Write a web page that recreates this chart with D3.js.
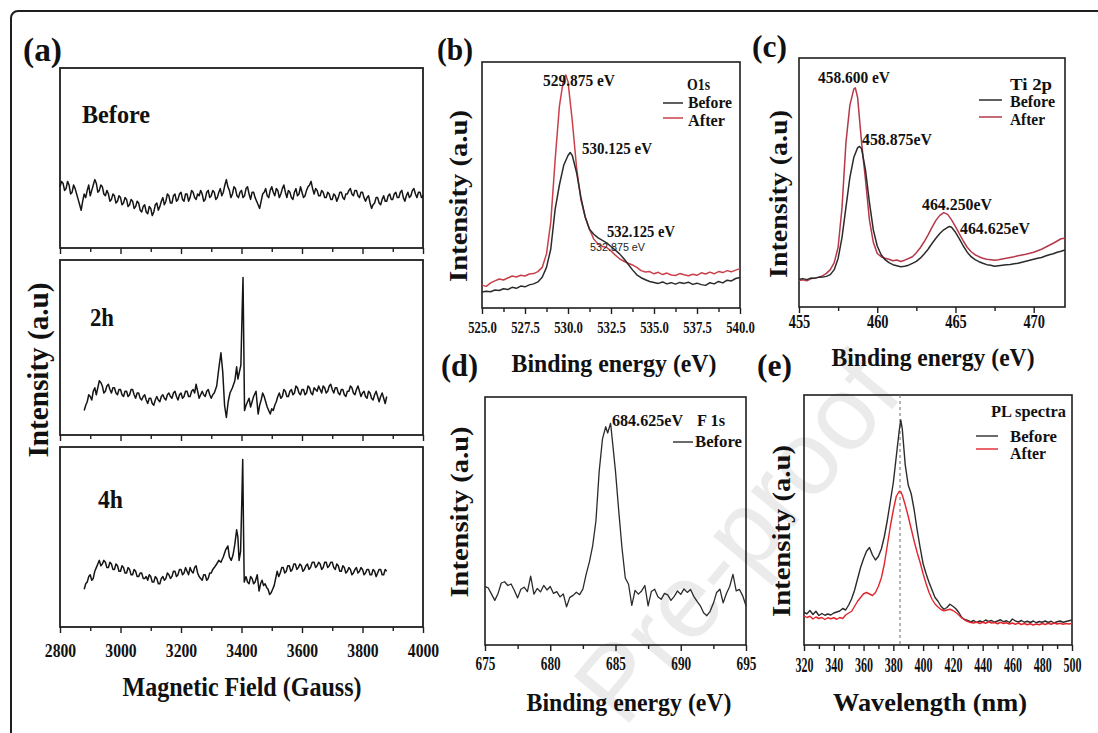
<!DOCTYPE html>
<html>
<head>
<meta charset="utf-8">
<script src="https://cdn.jsdelivr.net/npm/d3@7"></script>
<style>
  body { margin: 0; background: #fff; }
  svg { display: block; }
  svg text { font-family: "Liberation Serif", "Times New Roman", Tinos, "Nimbus Roman", "Noto Serif", "DejaVu Serif", FreeSerif, serif; }
</style>
</head>
<body>
<svg id="fig" width="1098" height="733"></svg>
<script>
// ---------------- data ----------------
// (a) EPR spectra: [field (G), intensity (a.u.)]
const eprBefore = [
[2800,34],[2805,37],[2810,36],[2815,32],[2820,33],[2825,37],[2830,35],[2835,30],[2840,31],[2845,35],
[2850,33],[2855,30],[2860,27],[2865,24],[2870,21],[2875,26],[2880,30],[2885,28],[2890,32],[2895,35],
[2900,29],[2905,32],[2910,35],[2915,38],[2920,36],[2925,31],[2930,32],[2935,35],[2940,34],[2945,30],
[2950,29],[2955,32],[2960,30],[2965,26],[2970,27],[2975,30],[2980,29],[2985,25],[2990,26],[2995,29],
[3000,28],[3005,24],[3010,25],[3015,28],[3020,27],[3025,23],[3030,24],[3035,27],[3040,26],[3045,22],
[3050,23],[3055,26],[3060,25],[3065,21],[3070,20],[3075,23],[3080,24],[3085,20],[3090,19],[3095,23],
[3100,22],[3105,18],[3110,20],[3115,24],[3120,25],[3125,21],[3130,23],[3135,26],[3140,28],[3145,24],
[3150,26],[3155,30],[3160,29],[3165,25],[3170,25],[3175,29],[3180,30],[3185,26],[3190,27],[3195,30],
[3200,31],[3205,27],[3210,26],[3215,30],[3220,30],[3225,26],[3230,28],[3235,32],[3240,31],[3245,28],
[3250,27],[3255,30],[3260,29],[3265,32],[3270,30],[3275,26],[3280,27],[3285,31],[3290,32],[3295,28],
[3300,29],[3305,32],[3310,31],[3315,27],[3320,28],[3325,31],[3330,33],[3335,29],[3340,31],[3345,35],
[3350,38],[3355,34],[3360,32],[3365,28],[3370,30],[3375,34],[3380,33],[3385,29],[3390,28],[3395,31],
[3400,32],[3405,28],[3410,29],[3415,33],[3420,34],[3425,30],[3430,27],[3435,31],[3440,31],[3445,28],
[3450,26],[3455,24],[3460,22],[3465,26],[3470,30],[3475,31],[3480,33],[3485,29],[3490,28],[3495,32],
[3500,34],[3505,31],[3510,29],[3515,33],[3520,32],[3525,28],[3530,30],[3535,33],[3540,35],[3545,31],
[3550,28],[3555,32],[3560,31],[3565,28],[3570,27],[3575,31],[3580,33],[3585,29],[3590,30],[3595,34],
[3600,31],[3605,28],[3610,29],[3615,32],[3620,34],[3625,35],[3630,37],[3635,33],[3640,30],[3645,33],
[3650,32],[3655,29],[3660,29],[3665,32],[3670,31],[3675,28],[3680,28],[3685,31],[3690,30],[3695,27],
[3700,27],[3705,30],[3710,29],[3715,26],[3720,28],[3725,31],[3730,31],[3735,28],[3740,27],[3745,30],
[3750,30],[3755,32],[3760,33],[3765,30],[3770,29],[3775,32],[3780,32],[3785,29],[3790,28],[3795,31],
[3800,31],[3805,28],[3810,26],[3815,28],[3820,29],[3825,25],[3830,22],[3835,24],[3840,25],[3845,28],
[3850,28],[3855,25],[3860,24],[3865,27],[3870,29],[3875,26],[3880,26],[3885,29],[3890,30],[3895,27],
[3900,27],[3905,30],[3910,31],[3915,28],[3920,28],[3925,31],[3930,32],[3935,28],[3940,26],[3945,29],
[3950,31],[3955,28],[3960,29],[3965,32],[3970,33],[3975,30],[3980,28],[3985,31],[3990,31],[3995,28],[4000,29]
];
const eprTwoHours = [
[2880,14],[2885,17],[2890,19],[2895,23],[2900,22],[2905,20],[2910,25],[2915,27],[2920,23],[2925,27],
[2930,31],[2935,30],[2940,28],[2945,24],[2950,25],[2955,28],[2960,29],[2965,26],[2970,24],[2975,27],
[2980,27],[2985,24],[2990,23],[2995,26],[3000,26],[3005,23],[3010,22],[3015,25],[3020,25],[3025,22],
[3030,23],[3035,26],[3040,26],[3045,23],[3050,21],[3055,24],[3060,24],[3065,21],[3070,20],[3075,22],
[3080,23],[3085,20],[3090,18],[3095,21],[3100,21],[3105,18],[3110,17],[3115,20],[3120,22],[3125,20],
[3130,19],[3135,22],[3140,23],[3145,21],[3150,20],[3155,23],[3160,24],[3165,22],[3170,21],[3175,24],
[3180,25],[3185,22],[3190,20],[3195,23],[3200,24],[3205,21],[3210,22],[3215,25],[3220,25],[3225,22],
[3230,22],[3235,25],[3240,26],[3245,24],[3250,29],[3255,25],[3260,21],[3265,23],[3270,25],[3275,23],
[3280,22],[3285,25],[3290,26],[3295,23],[3300,21],[3305,23],[3310,24],[3318,28],[3325,38],[3332,47],
[3338,36],[3344,17],[3350,10],[3356,19],[3362,24],[3370,27],[3378,31],[3384,39],[3388,32],[3393,36],
[3398,40],[3402,70],[3405,90],[3408,45],[3410,14],[3415,17],[3420,19],[3425,21],[3430,16],[3435,19],
[3440,22],[3448,25],[3455,12],[3460,17],[3465,20],[3470,24],[3475,22],[3480,19],[3485,16],[3490,14],
[3495,12],[3500,15],[3505,14],[3510,17],[3515,19],[3520,22],[3525,24],[3530,21],[3535,22],[3540,26],
[3545,25],[3550,22],[3555,22],[3560,25],[3565,26],[3570,23],[3575,24],[3580,28],[3585,27],[3590,24],
[3595,23],[3600,26],[3605,26],[3610,23],[3615,24],[3620,28],[3625,27],[3630,24],[3635,23],[3640,27],
[3645,26],[3650,25],[3655,28],[3660,26],[3665,24],[3670,28],[3675,27],[3680,24],[3685,25],[3690,28],
[3695,29],[3700,26],[3705,24],[3710,27],[3715,27],[3720,24],[3725,23],[3730,26],[3735,26],[3740,23],
[3745,22],[3750,25],[3755,25],[3760,28],[3765,27],[3770,24],[3775,23],[3780,26],[3785,28],[3790,25],
[3795,22],[3800,24],[3805,25],[3810,22],[3815,21],[3820,25],[3825,24],[3830,21],[3835,20],[3840,23],
[3845,25],[3850,22],[3855,19],[3860,22],[3865,24],[3870,21],[3875,18],[3880,22]
];
const eprFourHours = [
[2880,21],[2885,24],[2890,25],[2895,28],[2900,29],[2905,26],[2910,27],[2915,31],[2920,33],[2925,35],
[2930,37],[2935,34],[2940,35],[2945,37],[2950,36],[2955,33],[2960,33],[2965,36],[2970,35],[2975,32],
[2980,32],[2985,35],[2990,34],[2995,31],[3000,31],[3005,34],[3010,33],[3015,30],[3020,30],[3025,33],
[3030,32],[3035,29],[3040,29],[3045,32],[3050,31],[3055,28],[3060,28],[3065,30],[3070,30],[3075,27],
[3080,27],[3085,28],[3090,26],[3095,29],[3100,28],[3105,25],[3110,25],[3115,28],[3120,27],[3125,24],
[3130,24],[3135,27],[3140,28],[3145,26],[3150,27],[3155,30],[3160,29],[3165,27],[3170,28],[3175,31],
[3180,31],[3185,28],[3190,29],[3195,32],[3200,32],[3205,29],[3210,30],[3215,33],[3220,31],[3225,29],
[3230,33],[3235,31],[3240,30],[3245,33],[3250,34],[3255,30],[3260,28],[3265,27],[3270,26],[3275,29],
[3280,29],[3285,26],[3290,27],[3295,30],[3300,30],[3305,32],[3310,33],[3318,35],[3325,37],[3332,36],
[3340,39],[3348,43],[3355,45],[3360,39],[3366,37],[3372,40],[3378,46],[3384,54],[3388,50],[3392,37],
[3397,42],[3401,70],[3404,93],[3407,50],[3409,25],[3415,28],[3420,25],[3425,24],[3430,28],[3435,27],
[3440,24],[3445,25],[3452,29],[3458,20],[3463,24],[3468,26],[3473,23],[3478,24],[3483,22],[3488,21],
[3493,18],[3498,19],[3503,21],[3508,23],[3513,27],[3518,31],[3523,28],[3528,30],[3533,33],[3538,33],
[3543,30],[3548,31],[3553,34],[3558,34],[3563,31],[3568,32],[3573,35],[3578,35],[3583,32],[3588,33],
[3593,35],[3598,34],[3603,31],[3608,32],[3613,34],[3618,35],[3623,32],[3628,33],[3634,36],[3640,36],
[3645,33],[3650,34],[3655,36],[3660,35],[3665,32],[3670,33],[3675,36],[3680,36],[3685,33],[3690,34],
[3695,36],[3700,36],[3705,33],[3710,32],[3715,35],[3720,34],[3725,31],[3730,31],[3735,34],[3740,33],
[3745,30],[3750,31],[3755,33],[3760,32],[3765,29],[3770,30],[3775,32],[3780,33],[3785,30],[3790,31],
[3795,33],[3800,32],[3805,29],[3810,30],[3815,32],[3820,32],[3825,29],[3830,29],[3835,32],[3840,31],
[3845,28],[3850,30],[3855,32],[3860,32],[3865,29],[3870,29],[3875,32],[3880,31]
];
const eprFieldTicks = [2800, 3000, 3200, 3400, 3600, 3800, 4000];
const eprFieldMinor = [2900, 3100, 3300, 3500, 3700, 3900];

// (b) O1s XPS: [binding energy (eV), intensity]
const o1sBefore = [
[525.00,6.5],[525.25,6.8],[525.50,6.6],[525.75,7.3],[526.00,7.1],[526.25,7.8],[526.50,7.5],[526.75,8.4],
[527.00,8.0],[527.25,8.9],[527.50,8.6],[527.75,9.4],[528.00,9.8],[528.25,10.6],[528.50,12.5],[528.75,16.5],
[529.00,24],[529.25,40],[529.50,50],[529.75,58],[530.00,62],[530.125,63.2],[530.25,62],[530.50,55],
[530.75,45],[531.00,37],[531.25,32],[531.50,30],[531.75,28.5],[532.00,27.5],[532.25,26.5],[532.50,25],
[532.75,23.5],[533.00,22],[533.25,20],[533.50,17.8],[533.75,15.5],[534.00,13.5],[534.25,12.3],[534.50,11.5],
[534.75,10.8],[535.00,10.4],[535.25,10.0],[535.50,10.6],[535.75,9.8],[536.00,10.3],[536.25,9.7],[536.50,10.4],
[536.75,10.0],[537.00,10.5],[537.25,9.6],[537.50,10.1],[537.75,9.5],[538.00,9.2],[538.25,10.3],[538.50,9.8],
[538.75,10.8],[539.00,10.2],[539.25,11.3],[539.50,11.0],[539.75,12.0],[540.00,12.4]
];
const o1sAfter = [
[525.00,9.3],[525.25,8.8],[525.50,10.2],[525.75,11.0],[526.00,11.8],[526.25,11.4],[526.50,12.2],[526.75,13.0],
[527.00,12.6],[527.25,13.3],[527.50,13.0],[527.75,13.8],[528.00,14.0],[528.25,14.8],[528.50,16.5],[528.75,22],
[529.00,35],[529.25,60],[529.50,82],[529.75,93.5],[529.875,94.7],[530.00,92],[530.25,76],[530.50,57],
[530.75,44],[531.00,37],[531.25,32],[531.50,28],[531.75,26],[532.00,25],[532.25,24.6],[532.50,23.2],
[532.75,21.5],[533.00,20],[533.25,19],[533.50,18.2],[533.75,17.5],[534.00,16.5],[534.25,15.2],[534.50,14.6],
[534.75,14.8],[535.00,13.9],[535.25,14.5],[535.50,13.6],[535.75,14.2],[536.00,13.4],[536.25,13.2],[536.50,14.0],
[536.75,13.5],[537.00,13.1],[537.25,13.7],[537.50,13.3],[537.75,14.3],[538.00,13.8],[538.25,14.6],[538.50,13.9],
[538.75,14.8],[539.00,14.4],[539.25,15.2],[539.50,14.7],[539.75,15.4],[540.00,16.0]
];
const o1sTicks = [525, 527.5, 530, 532.5, 535, 537.5, 540];
const o1sMinor = [526.25, 528.75, 531.25, 533.75, 536.25, 538.75];

// (c) Ti 2p XPS
const ti2pBefore = [
[455.00,11.1],[455.25,11.4],[455.50,11.0],[455.75,11.6],[456.00,11.5],[456.25,11.9],[456.50,12.0],[456.75,12.3],
[457.00,13.0],[457.25,15.0],[457.50,19.5],[457.75,28],[458.00,40],[458.25,52],[458.50,60],[458.75,64],
[458.875,64.5],[459.00,63.5],[459.25,55],[459.50,42],[459.75,31],[460.00,24.5],[460.25,21],[460.50,19],
[460.75,17.8],[461.00,17.0],[461.25,16.6],[461.50,16.2],[461.75,16.4],[462.00,16.8],[462.25,17.5],[462.50,18.3],
[462.75,19.6],[463.00,21.3],[463.25,23.2],[463.50,25.5],[463.75,27.6],[464.00,29.5],[464.25,31.0],[464.50,32.0],
[464.625,32.3],[464.75,32.0],[465.00,30.0],[465.25,27.4],[465.50,24.5],[465.75,22.0],[466.00,20.2],[466.25,19.0],
[466.50,18.2],[466.75,17.6],[467.00,17.0],[467.25,16.8],[467.50,16.4],[467.75,16.6],[468.00,16.8],[468.25,17.0],
[468.50,17.1],[468.75,17.4],[469.00,17.6],[469.25,18.0],[469.50,18.4],[469.75,18.8],[470.00,19.2],[470.25,19.6],
[470.50,19.9],[470.75,20.5],[471.00,21.0],[471.25,21.4],[471.50,22.0],[471.75,22.4],[472.00,22.9]
];
const ti2pAfter = [
[455.00,10.6],[455.25,10.9],[455.50,10.5],[455.75,11.3],[456.00,11.6],[456.25,12.0],[456.50,12.5],[456.75,13.5],
[457.00,15.0],[457.25,17.8],[457.50,24],[457.75,40],[458.00,66],[458.25,81],[458.50,87.5],[458.60,88],
[458.75,84],[459.00,66],[459.25,51],[459.50,35],[459.75,26],[460.00,21.5],[460.25,20.2],[460.50,19.6],
[460.75,19.2],[461.00,18.6],[461.25,18.9],[461.50,18.3],[461.75,18.8],[462.00,19.5],[462.25,20.2],[462.50,21.8],
[462.75,23.8],[463.00,26.2],[463.25,29.0],[463.50,32.0],[463.75,34.8],[464.00,36.8],[464.25,37.9],[464.50,37.2],
[464.75,35.0],[465.00,32.3],[465.25,29.4],[465.50,26.5],[465.75,24.0],[466.00,22.2],[466.25,21.0],[466.50,20.2],
[466.75,19.6],[467.00,19.2],[467.25,19.0],[467.50,18.8],[467.75,19.0],[468.00,19.3],[468.25,19.6],[468.50,19.9],
[468.75,20.2],[469.00,20.6],[469.25,20.9],[469.50,21.2],[469.75,21.6],[470.00,22.0],[470.25,22.6],[470.50,23.2],
[470.75,24.0],[471.00,24.8],[471.25,25.6],[471.50,26.5],[471.75,27.4],[472.00,27.6]
];
const ti2pTicks = [455, 460, 465, 470];
const ti2pMinor = [457.5, 462.5, 467.5];

// (d) F 1s XPS
const f1sBefore = [
[675.00,23.5],[675.25,23.0],[675.50,20.5],[675.75,18.0],[676.00,20.8],[676.25,25.0],[676.50,25.5],[676.75,24.0],
[677.00,24.6],[677.25,22.0],[677.50,19.0],[677.75,22.5],[678.00,23.3],[678.25,21.5],[678.50,27.8],[678.75,20.5],
[679.00,22.8],[679.25,21.4],[679.50,24.0],[679.75,22.2],[680.00,23.6],[680.25,20.8],[680.50,21.5],[680.75,19.4],
[681.00,20.6],[681.25,15.4],[681.50,19.2],[681.75,20.0],[682.00,21.3],[682.25,20.3],[682.50,22.5],[682.75,28.5],
[683.00,33.5],[683.25,40.0],[683.50,50.0],[683.75,70.0],[684.00,83.0],[684.25,88.0],[684.40,85.5],[684.625,89.4],
[684.75,83.0],[685.00,70.0],[685.25,54.0],[685.50,39.0],[685.75,27.0],[686.00,24.5],[686.25,16.0],[686.50,22.0],
[686.75,20.5],[687.00,21.8],[687.25,24.0],[687.50,15.8],[687.75,21.6],[688.00,22.5],[688.25,19.5],[688.50,18.4],
[688.75,20.8],[689.00,20.2],[689.25,18.0],[689.50,19.6],[689.75,21.8],[690.00,20.4],[690.25,22.6],[690.50,21.2],
[690.75,22.4],[691.00,19.6],[691.25,17.6],[691.50,15.8],[691.75,13.0],[692.00,11.8],[692.25,13.6],[692.50,16.8],
[692.75,21.2],[693.00,22.5],[693.25,17.0],[693.50,20.8],[693.75,23.6],[694.00,28.5],[694.25,21.8],[694.50,22.4],
[694.75,19.8],[695.00,15.8]
];
const f1sTicks = [675, 680, 685, 690, 695];
const f1sMinor = [677.5, 682.5, 687.5, 692.5];

// (e) PL spectra: [wavelength (nm), intensity]
const plBefore = [
[320,13.0],[322,12.5],[324,13.8],[326,12.2],[328,13.5],[330,11.8],[332,12.6],[334,11.9],[336,12.4],[338,12.0],
[340,12.8],[342,13.2],[344,13.6],[346,14.6],[348,14.0],[350,16.0],[352,18.5],[354,22.0],[356,26.5],[358,31.0],
[360,34.5],[362,37.5],[364,39.0],[366,36.0],[368,34.0],[370,35.5],[372,38.5],[374,43.5],[376,50.0],[378,57.5],
[380,65.0],[382,75.5],[384,86.0],[385,90.0],[386,86.5],[388,72.0],[390,64.0],[392,60.5],[394,54.0],[396,46.0],
[398,39.0],[400,32.5],[402,28.5],[404,25.0],[406,22.0],[408,19.0],[410,17.5],[412,15.5],[414,14.3],[416,15.0],
[418,16.3],[420,15.5],[422,14.5],[424,13.0],[426,11.0],[428,10.2],[430,9.8],[432,9.2],[434,9.8],[436,9.0],
[438,9.6],[440,9.2],[442,10.0],[444,9.4],[446,9.8],[448,9.1],[450,9.6],[452,10.1],[454,9.3],[456,9.7],
[458,9.0],[460,10.4],[462,9.6],[464,9.2],[466,9.8],[468,9.1],[470,9.5],[472,9.0],[474,9.6],[476,8.9],
[478,9.4],[480,9.1],[482,9.6],[484,9.0],[486,9.5],[488,8.8],[490,9.3],[492,9.6],[494,9.1],[496,9.4],
[498,9.7],[500,10.0]
];
const plAfter = [
[320,11.7],[322,11.0],[324,11.5],[326,10.4],[328,11.2],[330,10.6],[332,11.0],[334,10.2],[336,10.9],[338,10.5],
[340,10.9],[342,10.3],[344,11.0],[346,10.6],[348,12.0],[350,12.8],[352,13.5],[354,15.5],[356,17.5],[358,19.0],
[360,20.5],[362,21.0],[364,20.4],[366,19.8],[368,21.0],[370,23.5],[372,27.0],[374,32.5],[376,40.0],[378,47.5],
[380,54.0],[382,59.5],[384,61.5],[385,61.3],[386,60.0],[388,56.0],[390,51.5],[392,46.5],[394,41.5],[396,37.0],
[398,33.0],[400,28.5],[402,24.5],[404,21.0],[406,18.3],[408,16.4],[410,15.2],[412,14.2],[414,13.7],[416,14.0],
[418,14.3],[420,13.8],[422,13.0],[424,12.0],[426,10.8],[428,10.0],[430,9.4],[432,9.0],[434,8.8],[436,9.2],
[438,8.6],[440,9.1],[442,8.7],[444,9.3],[446,8.8],[448,9.0],[450,8.5],[452,9.1],[454,8.6],[456,8.9],
[458,8.4],[460,8.8],[462,8.3],[464,8.8],[466,8.2],[468,8.6],[470,8.1],[472,8.5],[474,8.0],[476,8.4],
[478,8.1],[480,8.6],[482,8.2],[484,8.7],[486,8.3],[488,8.8],[490,8.4],[492,8.7],[494,8.3],[496,8.6],
[498,8.4],[500,8.7]
];
const plPeak = 384.5;
const plTicks = [320, 340, 360, 380, 400, 420, 440, 460, 480, 500];
const plMinor = [330, 350, 370, 390, 410, 430, 450, 470, 490];

// ---------------- drawing ----------------
const svg = d3.select('#fig');
const SERIF = '"Liberation Serif", "Times New Roman", Tinos, "Nimbus Roman", "Noto Serif", "DejaVu Serif", FreeSerif, serif';
const SANS = '"Liberation Sans", Arial, "DejaVu Sans", sans-serif';
const INK = '#1e1e1e';
const LINE_BLACK = '#2b2b2b';

// background watermark
svg.append('text')
  .text('Pre-proof')
  .attr('transform', 'translate(905,394) rotate(-50)')
  .attr('text-anchor', 'end')
  .style('font-family', SANS)
  .style('font-size', '105px')
  .attr('fill', '#ebebeb');

// outer figure border
svg.append('rect')
  .attr('x', 11).attr('y', 11).attr('width', 1200).attr('height', 800).attr('rx', 7)
  .attr('fill', 'none').attr('stroke', INK).attr('stroke-width', 2);

function label(s, x, y, o) {
  const t = svg.append('text').text(s)
    .attr('x', x).attr('y', y)
    .style('font-family', o.family || SERIF)
    .style('font-weight', o.weight || 'bold')
    .style('font-size', o.size + 'px')
    .attr('fill', o.fill || '#111')
    .attr('text-anchor', o.anchor || 'start');
  if (o.width) t.attr('textLength', o.width).attr('lengthAdjust', 'spacingAndGlyphs');
  if (o.rotate) t.attr('transform', `rotate(${o.rotate},${x},${y})`);
  return t;
}

function panel(p) {
  const g = svg.append('g');
  const x = d3.scaleLinear().domain(p.xDomain).range([p.left, p.right]);
  const y = d3.scaleLinear().domain(p.yDomain).range([p.bottom, p.top]);

  const minorAxis = d3.axisBottom(x).tickValues(p.minor).tickSize(4).tickFormat('');
  const majorAxis = d3.axisBottom(x).tickValues(p.major).tickSize(6)
    .tickFormat(p.showLabels ? p.fmt : '');
  const gMinor = g.append('g').attr('transform', `translate(0,${p.bottom})`).call(minorAxis);
  const gMajor = g.append('g').attr('transform', `translate(0,${p.bottom})`).call(majorAxis);
  [gMinor, gMajor].forEach(a => {
    a.attr('font-family', null);
    a.select('.domain').remove();
    a.selectAll('line').attr('stroke', INK).attr('stroke-width', 1.4);
  });
  gMajor.selectAll('text')
    .attr('y', p.labelOffset).attr('dy', 0)
    .style('font-family', SERIF).style('font-weight', 'bold')
    .style('font-size', p.labelSize + 'px').attr('fill', '#111')
    .attr('transform', `scale(${p.labelSx},1)`);

  g.append('rect')
    .attr('x', p.left).attr('y', p.top)
    .attr('width', p.right - p.left).attr('height', p.bottom - p.top)
    .attr('fill', 'none').attr('stroke', INK).attr('stroke-width', p.frameWidth || 1.6);

  const line = d3.line().x(d => x(d[0])).y(d => y(d[1]));
  function trace(data, color, width) {
    g.append('path').datum(data).attr('d', line)
      .attr('fill', 'none').attr('stroke', color).attr('stroke-width', width)
      .attr('stroke-linejoin', 'round');
  }
  return { g, x, y, trace };
}

// ----- (a) EPR, three stacked frames -----
const eprFrames = [
  { top: 68, bottom: 248, data: eprBefore, labels: false },
  { top: 260, bottom: 435, data: eprTwoHours, labels: false },
  { top: 447, bottom: 627, data: eprFourHours, labels: true }
];
eprFrames.forEach(f => {
  const pa = panel({
    left: 60, right: 423, top: f.top, bottom: f.bottom,
    xDomain: [2800, 4000], yDomain: [0, 100],
    major: eprFieldTicks, minor: eprFieldMinor, showLabels: f.labels, fmt: d3.format('d'),
    labelOffset: 30, labelSize: 18, labelSx: 0.87, frameWidth: 1.8
  });
  pa.trace(f.data, '#151515', 1.5);
});
label('(a)', 23, 61, { size: 34, width: 39 });
label('Before', 82, 123, { size: 26, width: 68 });
label('2h', 90, 326, { size: 26, width: 24 });
label('4h', 98, 508, { size: 26, width: 25 });
label('Magnetic Field (Gauss)', 242, 696, { size: 28, width: 239, anchor: 'middle' });
label('Intensity (a.u)', 48, 370, { size: 29, width: 175, anchor: 'middle', rotate: -90 });

// ----- (b) O1s -----
const pb = panel({
  left: 482, right: 740, top: 62, bottom: 308,
  xDomain: [525, 540], yDomain: [0, 100],
  major: o1sTicks, minor: o1sMinor, showLabels: true, fmt: d3.format('.1f'),
  labelOffset: 25, labelSize: 17, labelSx: 0.75
});
const RED_B = '#c9404a';
pb.trace(o1sAfter, RED_B, 1.5);
pb.trace(o1sBefore, LINE_BLACK, 1.5);
label('(b)', 437, 60, { size: 32, width: 36 });
label('Intensity (a.u)', 467, 196, { size: 25, width: 172, anchor: 'middle', rotate: -90 });
label('Binding energy (eV)', 614, 372, { size: 25, width: 205, anchor: 'middle' });
label('529.875 eV', 543, 86, { size: 16, width: 72 });
label('530.125 eV', 582, 154, { size: 16, width: 70 });
label('532.125 eV', 607, 237, { size: 16, width: 68 });
label('532.875 eV', 590, 251, { size: 10.5, width: 55, family: SANS, weight: 'normal', fill: '#222' });
label('O1s', 687, 90, { size: 16, width: 23 });
svg.append('line').attr('x1', 663).attr('x2', 683).attr('y1', 103).attr('y2', 103).attr('stroke', LINE_BLACK).attr('stroke-width', 1.5);
svg.append('line').attr('x1', 663).attr('x2', 683).attr('y1', 118).attr('y2', 118).attr('stroke', RED_B).attr('stroke-width', 1.5);
label('Before', 688, 108, { size: 16, width: 44 });
label('After', 688, 126, { size: 16, width: 37 });

// ----- (c) Ti 2p -----
const pc = panel({
  left: 799, right: 1065, top: 58, bottom: 307,
  xDomain: [455, 472], yDomain: [0, 100],
  major: ti2pTicks, minor: ti2pMinor, showLabels: true, fmt: d3.format('d'),
  labelOffset: 21, labelSize: 18, labelSx: 0.8
});
const RED_C = '#b5394a';
pc.trace(ti2pAfter, RED_C, 1.5);
pc.trace(ti2pBefore, LINE_BLACK, 1.5);
label('(c)', 752, 57, { size: 32, width: 35 });
label('Intensity (a.u)', 787, 194, { size: 25, width: 168, anchor: 'middle', rotate: -90 });
label('Binding energy (eV)', 933, 366, { size: 25, width: 203, anchor: 'middle' });
label('458.600 eV', 818, 83, { size: 16, width: 72 });
label('458.875eV', 862, 145, { size: 16, width: 70 });
label('464.250eV', 922, 210, { size: 16, width: 70 });
label('464.625eV', 960, 234, { size: 16, width: 70 });
label('Ti 2p', 1010, 90, { size: 16, width: 42 });
svg.append('line').attr('x1', 979).attr('x2', 1002).attr('y1', 100).attr('y2', 100).attr('stroke', LINE_BLACK).attr('stroke-width', 1.5);
svg.append('line').attr('x1', 979).attr('x2', 1002).attr('y1', 117).attr('y2', 117).attr('stroke', RED_C).attr('stroke-width', 1.5);
label('Before', 1010, 107, { size: 16, width: 45 });
label('After', 1010, 125, { size: 16, width: 35 });

// ----- (d) F 1s -----
const pd = panel({
  left: 485, right: 746, top: 397, bottom: 645,
  xDomain: [675, 695], yDomain: [0, 100],
  major: f1sTicks, minor: f1sMinor, showLabels: true, fmt: d3.format('d'),
  labelOffset: 25, labelSize: 19, labelSx: 0.7
});
pd.trace(f1sBefore, LINE_BLACK, 1.3);
label('(d)', 441, 376, { size: 32, width: 37 });
label('Intensity (a.u)', 468, 512, { size: 25, width: 171, anchor: 'middle', rotate: -90 });
label('Binding energy (eV)', 629, 711, { size: 25, width: 205, anchor: 'middle' });
label('684.625eV', 612, 426, { size: 16, width: 71 });
label('F 1s', 697, 426, { size: 16, width: 28 });
svg.append('line').attr('x1', 673).attr('x2', 693).attr('y1', 442).attr('y2', 442).attr('stroke', LINE_BLACK).attr('stroke-width', 1.4);
label('Before', 695, 447, { size: 16, width: 47 });

// ----- (e) PL -----
const pe = panel({
  left: 804, right: 1072, top: 395, bottom: 645,
  xDomain: [320, 500], yDomain: [0, 100],
  major: plTicks, minor: plMinor, showLabels: true, fmt: d3.format('d'),
  labelOffset: 27, labelSize: 20, labelSx: 0.6
});
const RED_E = '#e0262c';
pe.g.append('line')
  .attr('x1', pe.x(plPeak)).attr('x2', pe.x(plPeak))
  .attr('y1', pe.y(100)).attr('y2', pe.y(0))
  .attr('stroke', '#777').attr('stroke-width', 1.1).attr('stroke-dasharray', '3,3');
pe.trace(plBefore, LINE_BLACK, 1.4);
pe.trace(plAfter, RED_E, 1.4);
label('(e)', 757, 376, { size: 32, width: 35 });
label('Intensity (a.u)', 790, 531, { size: 25, width: 172, anchor: 'middle', rotate: -90 });
label('Wavelength (nm)', 930, 711, { size: 25, width: 194, anchor: 'middle' });
label('PL spectra', 991, 417, { size: 16, width: 75 });
svg.append('line').attr('x1', 976).attr('x2', 998).attr('y1', 436).attr('y2', 436).attr('stroke', LINE_BLACK).attr('stroke-width', 1.4);
svg.append('line').attr('x1', 976).attr('x2', 998).attr('y1', 449).attr('y2', 449).attr('stroke', RED_E).attr('stroke-width', 1.4);
label('Before', 1010, 442, { size: 16, width: 47 });
label('After', 1010, 459, { size: 16, width: 36 });
</script>
</body>
</html>
